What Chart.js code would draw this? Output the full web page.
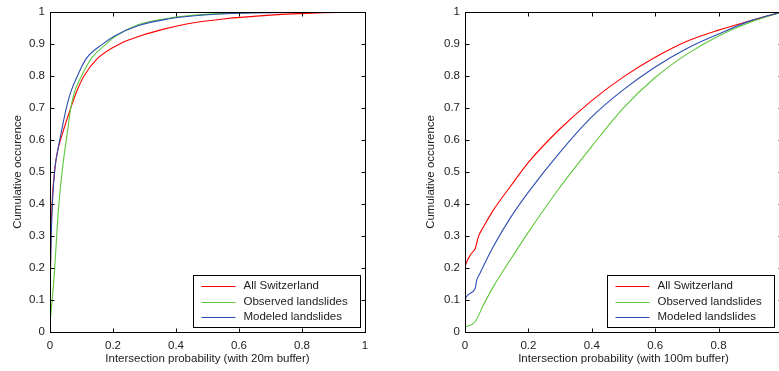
<!DOCTYPE html>
<html>
<head>
<meta charset="utf-8">
<script src="https://cdn.jsdelivr.net/npm/chart.js@4.4.0/dist/chart.umd.min.js"></script>
<style>
html, body { margin:0; padding:0; background:#fff; overflow:hidden; width:779px; height:371px; }
#wrap1 { position:absolute; left:0; top:0; width:400px; height:371px; }
#wrap2 { position:absolute; left:400px; top:0; width:400px; height:371px; }
</style>
</head>
<body>
<div id="wrap1"><canvas id="chart20" width="400" height="371"></canvas></div>
<div id="wrap2"><canvas id="chart100" width="400" height="371"></canvas></div>
<script>
var seriesNames = ['All Switzerland', 'Observed landslides', 'Modeled landslides'];
var seriesColors = ['#ff0000', '#5ec83c', '#2b4fb0'];
var xTicks = [0, 0.2, 0.4, 0.6, 0.8, 1];
var yTicks = [0, 0.1, 0.2, 0.3, 0.4, 0.5, 0.6, 0.7, 0.8, 0.9, 1];
var yTitle = 'Cumulative occurence';
var xTitle20 = 'Intersection probability (with 20m buffer)';
var xTitle100 = 'Intersection probability (with 100m buffer)';

// 20m buffer
var swiss20X = [0, 0, 0.003, 0.007, 0.016, 0.024, 0.038, 0.066, 0.084, 0.108, 0.15, 0.221, 0.29, 0.364, 0.438, 0.55, 0.7, 0.85, 1];
var swiss20Y = [0, 0.12, 0.3, 0.41, 0.515, 0.565, 0.615, 0.7, 0.75, 0.8, 0.854, 0.9, 0.926, 0.947, 0.963, 0.978, 0.99, 0.997, 1];
var observed20X = [0, 0.003, 0.008, 0.015, 0.023, 0.03, 0.042, 0.054, 0.066, 0.078, 0.1, 0.131, 0.179, 0.21, 0.279, 0.375, 0.46, 0.6, 0.8, 1];
var observed20Y = [0.03, 0.06, 0.11, 0.2, 0.33, 0.42, 0.53, 0.615, 0.7, 0.75, 0.8, 0.854, 0.9, 0.925, 0.96, 0.98, 0.99, 0.997, 0.999, 1];
var modeled20X = [0, 0.001, 0.004, 0.008, 0.016, 0.025, 0.036, 0.052, 0.066, 0.087, 0.115, 0.168, 0.205, 0.279, 0.375, 0.46, 0.6, 0.8, 1];
var modeled20Y = [0, 0.15, 0.3, 0.41, 0.515, 0.57, 0.625, 0.7, 0.75, 0.8, 0.854, 0.9, 0.925, 0.957, 0.978, 0.988, 0.996, 0.999, 1];

// 100m buffer
var swiss100X = [0, 0, 0.003, 0.02, 0.032, 0.042, 0.058, 0.089, 0.142, 0.2, 0.3, 0.4, 0.5, 0.6, 0.7, 0.8, 0.9, 1];
var swiss100Y = [0, 0.2, 0.213, 0.245, 0.26, 0.297, 0.328, 0.38, 0.453, 0.53, 0.635, 0.723, 0.797, 0.858, 0.908, 0.943, 0.972, 1];
var observed100X = [0, 0.032, 0.058, 0.089, 0.142, 0.2, 0.3, 0.4, 0.5, 0.6, 0.7, 0.8, 0.9, 1];
var observed100Y = [0.015, 0.032, 0.084, 0.141, 0.224, 0.312, 0.453, 0.58, 0.7, 0.795, 0.868, 0.925, 0.968, 1];
var modeled100X = [0, 0, 0.003, 0.032, 0.037, 0.047, 0.089, 0.142, 0.2, 0.3, 0.4, 0.5, 0.6, 0.7, 0.8, 0.9, 1];
var modeled100Y = [0, 0.094, 0.108, 0.136, 0.162, 0.183, 0.266, 0.355, 0.437, 0.562, 0.672, 0.757, 0.828, 0.886, 0.931, 0.972, 1];

Chart.defaults.font.family = '"Liberation Sans", Arial, sans-serif';
Chart.defaults.font.size = 11.5;
Chart.defaults.color = '#222';

function pts(xs, ys)
{
    var out = [];
    for (var i = 0; i < xs.length; i++) {
        out.push({x: xs[i], y: ys[i]});
    }
    return out;
}

// matlab style box, inward ticks and legend inside the axes
var boxPlugin = {
    id: 'boxPlugin',
    afterDatasetsDraw: function(chart, args, opts) {
        var ctx = chart.ctx;
        var a = chart.chartArea;
        var xs = chart.scales.x, ys = chart.scales.y;
        var L = Math.round(a.left) + 0.5, R = Math.round(a.right) + 0.5;
        var T = Math.round(a.top) + 0.5, B = Math.round(a.bottom) + 0.5;
        ctx.save();
        ctx.strokeStyle = '#000';
        ctx.lineWidth = 1;
        ctx.strokeRect(L, T, R - L, B - T);
        ctx.beginPath();
        xTicks.forEach(function(v) {
            var px = Math.round(xs.getPixelForValue(v)) + 0.5;
            ctx.moveTo(px, B); ctx.lineTo(px, B - 4);
            ctx.moveTo(px, T); ctx.lineTo(px, T + 4);
        });
        yTicks.forEach(function(v) {
            var py = Math.round(ys.getPixelForValue(v)) + 0.5;
            ctx.moveTo(L, py); ctx.lineTo(L + 4, py);
            ctx.moveTo(R, py); ctx.lineTo(R - 4, py);
        });
        ctx.stroke();

        // legend
        var w = 167, h = 52;
        var lx = Math.round(a.right - opts.gap - w) + 0.5;
        var ly = Math.round(a.bottom - 5 - h) + 0.5;
        ctx.fillStyle = '#fff';
        ctx.fillRect(lx, ly, w, h);
        ctx.strokeStyle = '#000';
        ctx.strokeRect(lx, ly, w, h);
        ctx.font = '11.5px "Liberation Sans", Arial, sans-serif';
        ctx.textBaseline = 'middle';
        ctx.textAlign = 'left';
        for (var i = 0; i < seriesNames.length; i++) {
            var yy = ly + 10.5 + i * 15.6;
            ctx.strokeStyle = seriesColors[i];
            ctx.beginPath();
            ctx.moveTo(lx + 8, Math.round(yy) + 0.5);
            ctx.lineTo(lx + 42, Math.round(yy) + 0.5);
            ctx.stroke();
            ctx.fillStyle = '#222';
            ctx.fillText(seriesNames[i], lx + 50, yy);
        }
        ctx.restore();
    }
};

function makeChart(id, series, xTitle, yWidth, rightPad, yTitlePad, legendGap)
{
    var sets = [];
    for (var i = 0; i < series.length; i++) {
        sets.push({
            label: seriesNames[i],
            data: pts(series[i][0], series[i][1]),
            borderColor: seriesColors[i],
            borderWidth: 1.1,
            pointRadius: 0,
            showLine: true,
            fill: false,
            cubicInterpolationMode: 'monotone',
            order: 3 - i
        });
    }
    return new Chart(document.getElementById(id), {
        type: 'scatter',
        data: { datasets: sets },
        options: {
            responsive: false,
            animation: false,
            layout: { padding: { top: 11, right: rightPad, left: 0, bottom: 0 } },
            plugins: {
                legend: { display: false },
                tooltip: { enabled: false },
                boxPlugin: { gap: legendGap }
            },
            scales: {
                x: {
                    type: 'linear', min: 0, max: 1,
                    grid: { display: false, drawTicks: false },
                    border: { display: false },
                    afterBuildTicks: function(s) { s.ticks = xTicks.map(function(v) { return {value: v}; }); },
                    afterFit: function(s) { s.height = 39; },
                    ticks: {
                        padding: 7, maxRotation: 0,
                        callback: function(v) { return String(Math.round(v * 10) / 10); }
                    },
                    title: { display: true, text: xTitle, padding: { top: 0, bottom: 5 } }
                },
                y: {
                    type: 'linear', min: 0, max: 1,
                    grid: { display: false, drawTicks: false },
                    border: { display: false },
                    afterBuildTicks: function(s) { s.ticks = yTicks.map(function(v) { return {value: v}; }); },
                    afterFit: function(s) { s.width = yWidth; },
                    ticks: {
                        padding: 5,
                        callback: function(v) { return String(Math.round(v * 10) / 10); }
                    },
                    title: { display: true, text: yTitle, padding: { top: yTitlePad, bottom: 0 } }
                }
            }
        },
        plugins: [boxPlugin]
    });
}

makeChart('chart20', [[swiss20X, swiss20Y], [observed20X, observed20Y], [modeled20X, modeled20Y]], xTitle20, 50, 35, 11, 5);
makeChart('chart100', [[swiss100X, swiss100Y], [observed100X, observed100Y], [modeled100X, modeled100Y]], xTitle100, 65, 18, 24, 8);
</script>
</body>
</html>
